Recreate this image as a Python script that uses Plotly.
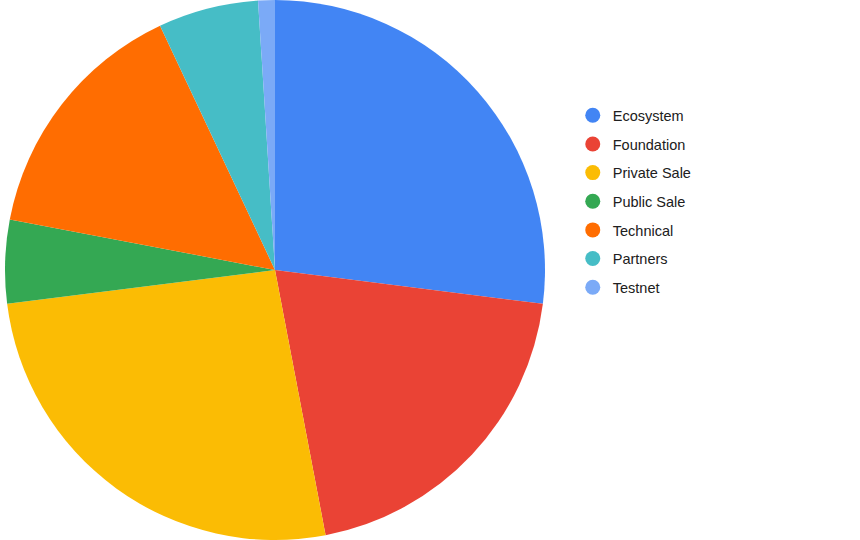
import plotly.graph_objects as go

categories = ["Ecosystem", "Foundation", "Private Sale", "Public Sale", "Technical", "Partners", "Testnet"]
values = [27, 20, 26, 5, 15, 6, 1]
colors = ["#4285F4", "#EA4335", "#FBBC04", "#34A853", "#FF6D01", "#46BDC6", "#7BAAF7"]

fig = go.Figure()
fig.add_trace(go.Pie(
    labels=categories, values=values, sort=False, direction="clockwise", rotation=0,
    marker=dict(colors=colors, line=dict(width=0)), textinfo="none", hoverinfo="label+percent",
    showlegend=False, domain=dict(x=[5/860, 545/860], y=[0, 1])
))
for c, col in zip(categories, colors):
    fig.add_trace(go.Scatter(x=[None], y=[None], mode="markers", name=c,
                             marker=dict(symbol="circle", size=15, color=col),
                             legendgroup=c, showlegend=True))

fig.update_layout(
    width=860, height=540, margin=dict(l=0, r=0, t=0, b=0),
    paper_bgcolor="white", plot_bgcolor="white",
    xaxis=dict(visible=False), yaxis=dict(visible=False),
    legend=dict(x=0.666, y=0.816, xanchor="left", yanchor="top",
                font=dict(family="Arial, Liberation Sans, sans-serif", size=14.5, color="#202020"),
                tracegroupgap=6.8, itemsizing="trace", bgcolor="rgba(0,0,0,0)"),
)
fig.write_html("out.html", config={"displayModeBar": False},
               post_script="document.body.style.margin='0px';")
